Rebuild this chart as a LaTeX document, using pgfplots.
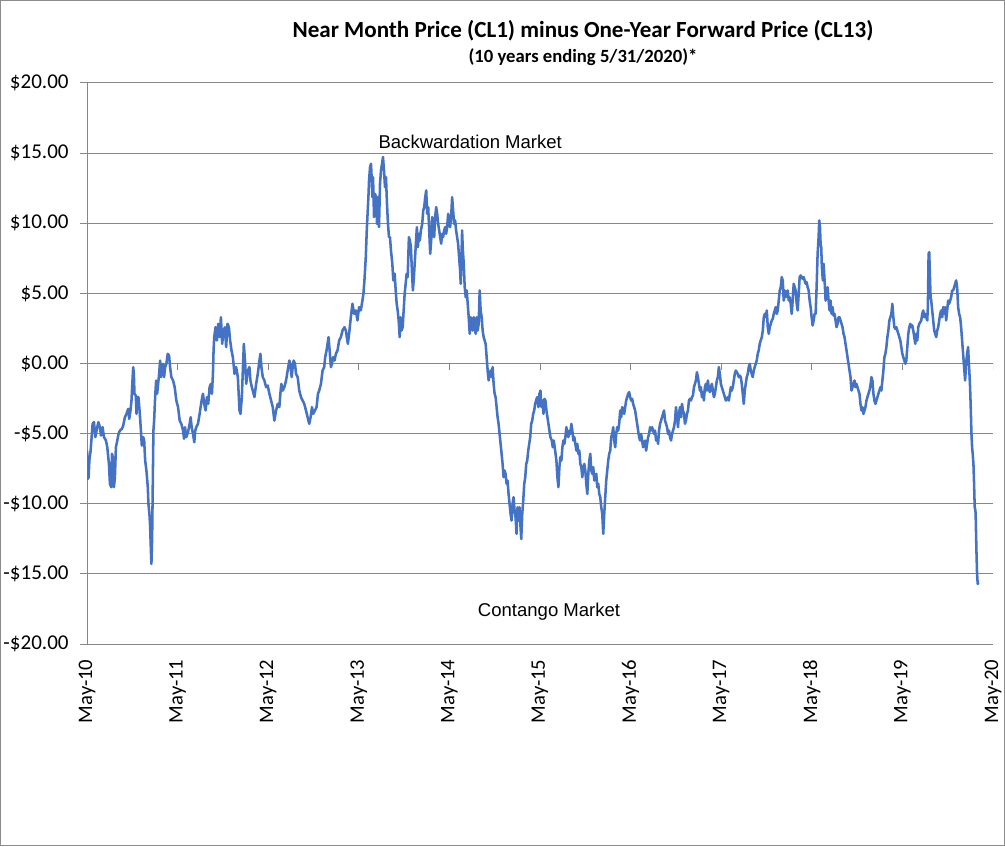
\documentclass[border=0pt]{standalone}
\usepackage{fontspec}
\setmainfont{Carlito}
\newfontfamily\arialfont{Liberation Sans}
\usepackage{pgfplots}
\usepackage{pgfplotstable}
\pgfplotsset{compat=1.18}
\definecolor{lineblue}{HTML}{4472C4}
\definecolor{axgray}{HTML}{878787}
\definecolor{framegray}{HTML}{8C8C8C}

\pgfplotstableread{
t v
0.000 -6.21
0.007 -8.23
0.018 -8.11
0.026 -6.92
0.040 -6.21
0.062 -4.30
0.077 -4.18
0.092 -5.25
0.106 -4.78
0.125 -4.18
0.143 -4.54
0.154 -5.14
0.172 -4.54
0.187 -5.25
0.209 -5.49
0.224 -5.97
0.242 -7.16
0.253 -8.58
0.268 -8.82
0.275 -6.44
0.286 -6.68
0.297 -8.82
0.308 -8.11
0.319 -5.97
0.334 -5.49
0.348 -5.02
0.363 -4.78
0.385 -4.66
0.400 -4.42
0.418 -3.83
0.436 -3.59
0.455 -3.23
0.466 -3.95
0.480 -3.35
0.491 -2.64
0.502 -1.21
0.510 -0.26
0.517 -0.74
0.524 -2.16
0.539 -2.28
0.546 -3.59
0.557 -2.40
0.568 -2.40
0.583 -3.59
0.594 -4.66
0.605 -5.85
0.620 -5.25
0.631 -5.49
0.642 -6.92
0.656 -7.63
0.671 -8.82
0.678 -10.01
0.689 -10.72
0.697 -11.67
0.704 -13.10
0.711 -14.29
0.719 -12.39
0.726 -8.58
0.733 -4.78
0.741 -4.07
0.752 -2.40
0.763 -1.21
0.774 -2.16
0.785 -1.45
0.796 -0.74
0.807 0.21
0.818 -0.97
0.829 -0.26
0.840 -0.02
0.851 -0.97
0.862 -0.26
0.876 -0.02
0.891 0.69
0.906 0.57
0.917 -0.26
0.931 -0.97
0.950 -1.21
0.968 -1.69
0.986 -2.64
1.005 -3.11
1.023 -4.07
1.041 -4.30
1.060 -4.78
1.071 -5.37
1.082 -4.54
1.096 -5.25
1.115 -4.90
1.133 -4.30
1.144 -3.83
1.155 -4.54
1.170 -5.02
1.184 -5.61
1.195 -4.78
1.206 -4.54
1.225 -4.30
1.243 -3.59
1.254 -3.11
1.265 -2.64
1.280 -2.16
1.294 -2.88
1.309 -3.35
1.324 -2.40
1.338 -2.88
1.353 -1.69
1.368 -1.45
1.379 -2.16
1.390 -0.74
1.397 0.93
1.404 1.88
1.419 2.59
1.434 1.64
1.448 2.83
1.463 1.88
1.478 3.30
1.492 1.40
1.507 2.35
1.522 2.59
1.536 1.17
1.551 2.83
1.566 2.59
1.580 1.64
1.595 0.93
1.610 0.45
1.628 -0.74
1.646 -0.26
1.665 -0.97
1.683 -3.35
1.694 -3.59
1.709 -2.40
1.720 -0.50
1.731 1.40
1.746 -0.02
1.757 -1.45
1.775 -0.50
1.793 -0.26
1.804 -1.21
1.819 -1.69
1.830 -1.93
1.848 -2.40
1.867 -1.45
1.885 -0.74
1.903 0.21
1.914 0.69
1.925 -0.26
1.940 -0.97
1.958 -1.21
1.977 -1.69
1.995 -1.57
2.013 -2.16
2.032 -2.64
2.050 -3.11
2.068 -4.07
2.087 -3.35
2.105 -2.88
2.123 -3.11
2.134 -2.16
2.145 -1.45
2.160 -1.93
2.178 -1.69
2.197 -1.21
2.215 -0.50
2.233 0.21
2.244 -0.02
2.259 -0.97
2.270 -0.26
2.281 0.21
2.296 -0.02
2.307 -0.74
2.325 -0.97
2.343 -1.93
2.362 -2.40
2.380 -2.64
2.398 -2.88
2.417 -3.35
2.435 -3.83
2.453 -4.30
2.468 -3.83
2.483 -3.11
2.497 -3.59
2.516 -3.35
2.534 -3.11
2.549 -2.16
2.563 -1.93
2.582 -1.45
2.600 -0.50
2.618 -0.26
2.629 0.45
2.644 0.93
2.655 1.40
2.666 1.88
2.681 0.69
2.692 -0.26
2.703 -0.02
2.717 0.45
2.732 0.21
2.747 0.69
2.765 0.93
2.783 1.64
2.802 1.88
2.820 2.35
2.842 2.59
2.857 2.35
2.879 1.40
2.893 2.12
2.912 3.30
2.930 4.26
2.948 3.54
2.967 3.78
2.985 3.07
3.003 4.02
3.022 3.78
3.040 4.49
3.051 4.97
3.062 5.92
3.077 7.58
3.088 9.49
3.095 10.44
3.106 11.86
3.113 13.05
3.124 14.00
3.135 14.24
3.143 13.05
3.150 11.86
3.157 13.29
3.168 10.44
3.179 12.10
3.190 11.86
3.201 9.96
3.212 11.86
3.223 9.72
3.234 12.82
3.245 13.77
3.256 14.24
3.267 14.72
3.278 13.77
3.289 12.58
3.300 13.29
3.311 11.39
3.322 9.96
3.333 9.01
3.344 9.01
3.355 8.06
3.370 7.11
3.381 5.92
3.396 6.40
3.407 5.21
3.418 4.26
3.429 3.78
3.440 3.07
3.451 1.88
3.462 3.30
3.473 2.35
3.484 2.59
3.495 3.78
3.506 4.97
3.517 5.68
3.528 6.40
3.539 6.16
3.546 7.58
3.553 9.01
3.564 8.77
3.575 8.30
3.586 6.63
3.597 5.21
3.608 6.16
3.619 7.35
3.630 8.54
3.641 9.72
3.652 8.30
3.663 9.25
3.674 8.77
3.685 9.49
3.700 9.96
3.711 10.91
3.722 11.15
3.733 11.86
3.744 12.34
3.755 10.68
3.766 11.15
3.777 9.49
3.788 7.82
3.799 8.77
3.810 10.44
3.821 9.72
3.832 9.01
3.843 10.44
3.854 11.15
3.865 10.68
3.876 9.96
3.887 9.49
3.898 9.01
3.909 8.54
3.920 9.25
3.931 9.01
3.942 9.49
3.953 9.72
3.964 9.25
3.975 9.72
3.986 10.68
3.997 9.96
4.008 9.72
4.019 10.44
4.030 11.86
4.041 10.91
4.052 9.96
4.063 10.20
4.074 9.49
4.085 9.01
4.096 8.54
4.107 7.58
4.118 6.63
4.125 5.68
4.132 7.11
4.140 9.49
4.147 8.30
4.158 7.11
4.169 5.44
4.180 4.73
4.191 5.21
4.202 4.26
4.213 3.30
4.224 2.12
4.235 3.30
4.246 2.83
4.257 2.35
4.268 3.30
4.279 2.59
4.290 2.12
4.301 3.30
4.312 2.35
4.323 2.83
4.334 5.21
4.345 3.78
4.356 3.30
4.367 2.35
4.378 1.88
4.389 1.64
4.400 1.40
4.411 0.45
4.422 -0.50
4.433 -1.21
4.444 -0.74
4.455 -0.50
4.466 -0.97
4.477 -0.26
4.488 -1.45
4.499 -2.16
4.510 -2.40
4.521 -3.11
4.532 -3.83
4.543 -4.30
4.554 -5.02
4.565 -5.73
4.576 -6.44
4.587 -7.16
4.598 -8.11
4.609 -7.63
4.620 -7.87
4.631 -8.58
4.642 -8.35
4.653 -9.30
4.664 -10.01
4.675 -10.72
4.686 -11.20
4.697 -10.01
4.708 -9.53
4.719 -10.48
4.730 -10.96
4.741 -12.15
4.752 -10.25
4.763 -11.20
4.774 -10.25
4.785 -11.67
4.793 -12.51
4.804 -10.72
4.815 -9.77
4.826 -8.58
4.837 -8.11
4.848 -7.16
4.859 -6.92
4.870 -6.21
4.881 -5.73
4.892 -5.25
4.903 -4.30
4.914 -4.07
4.925 -3.59
4.936 -3.35
4.946 -2.88
4.957 -2.64
4.968 -2.40
4.983 -3.11
4.994 -2.16
5.005 -1.93
5.016 -3.11
5.027 -2.64
5.038 -3.59
5.049 -2.52
5.060 -2.64
5.071 -3.35
5.082 -3.83
5.093 -4.30
5.104 -4.78
5.115 -5.25
5.130 -5.49
5.141 -5.97
5.152 -5.49
5.167 -6.21
5.181 -6.92
5.192 -8.11
5.203 -8.82
5.214 -7.39
5.225 -6.68
5.236 -6.92
5.247 -5.97
5.258 -5.49
5.269 -5.73
5.280 -5.25
5.291 -4.54
5.302 -5.02
5.313 -5.25
5.324 -4.78
5.335 -5.02
5.346 -4.30
5.357 -4.78
5.368 -5.49
5.379 -5.25
5.390 -5.73
5.401 -6.21
5.412 -5.73
5.423 -6.44
5.434 -6.21
5.445 -7.16
5.456 -7.39
5.467 -8.11
5.478 -7.39
5.489 -7.16
5.500 -7.63
5.511 -8.58
5.522 -9.30
5.533 -7.87
5.544 -6.92
5.555 -6.44
5.566 -7.63
5.577 -7.87
5.588 -7.39
5.599 -8.35
5.610 -8.11
5.621 -7.87
5.632 -8.82
5.643 -8.58
5.654 -9.30
5.665 -9.53
5.676 -10.25
5.687 -10.72
5.698 -12.15
5.709 -10.72
5.720 -9.53
5.731 -8.35
5.742 -7.63
5.753 -6.92
5.764 -6.44
5.775 -6.21
5.786 -5.25
5.797 -5.02
5.808 -4.54
5.819 -5.49
5.830 -5.97
5.841 -5.02
5.852 -4.54
5.863 -4.78
5.874 -4.30
5.885 -3.35
5.896 -3.83
5.907 -3.11
5.918 -3.35
5.929 -3.59
5.940 -3.11
5.951 -2.64
5.962 -2.40
5.973 -2.16
5.984 -2.04
5.995 -2.40
6.006 -2.64
6.017 -2.52
6.028 -2.88
6.039 -3.11
6.050 -3.35
6.061 -3.83
6.072 -4.30
6.083 -4.78
6.094 -5.25
6.105 -5.49
6.116 -5.02
6.127 -5.49
6.138 -5.97
6.149 -5.73
6.160 -5.49
6.171 -6.21
6.182 -5.73
6.193 -5.25
6.204 -5.02
6.215 -4.54
6.226 -4.78
6.237 -4.54
6.248 -4.78
6.259 -5.02
6.270 -4.78
6.281 -5.49
6.292 -5.25
6.303 -5.73
6.314 -4.78
6.325 -4.30
6.336 -4.07
6.347 -3.83
6.358 -3.59
6.369 -3.35
6.380 -4.07
6.391 -4.30
6.402 -4.54
6.413 -5.02
6.424 -4.78
6.435 -5.25
6.446 -5.49
6.457 -5.02
6.468 -4.78
6.479 -4.54
6.490 -4.07
6.501 -3.11
6.512 -3.83
6.523 -4.54
6.534 -3.59
6.545 -3.11
6.556 -3.83
6.567 -2.88
6.578 -3.35
6.589 -3.59
6.600 -4.30
6.611 -4.07
6.622 -3.59
6.633 -3.35
6.644 -2.64
6.655 -2.52
6.666 -2.64
6.677 -2.40
6.688 -2.28
6.699 -1.69
6.710 -1.45
6.721 -1.21
6.732 -0.62
6.743 -0.97
6.754 -1.45
6.765 -1.93
6.776 -1.69
6.787 -2.40
6.798 -2.04
6.809 -2.64
6.820 -1.69
6.831 -1.45
6.842 -1.93
6.853 -1.21
6.864 -1.81
6.875 -2.04
6.886 -1.69
6.897 -1.45
6.908 -1.93
6.919 -2.40
6.930 -2.16
6.941 -1.69
6.952 -1.21
6.963 -0.97
6.974 -0.26
6.985 -0.74
6.996 -1.45
7.007 -1.69
7.018 -1.93
7.029 -2.16
7.040 -2.40
7.051 -2.64
7.062 -2.52
7.073 -2.40
7.084 -2.64
7.095 -2.16
7.106 -1.69
7.117 -1.93
7.128 -1.69
7.139 -1.21
7.150 -0.74
7.161 -0.50
7.172 -0.62
7.183 -0.74
7.194 -0.97
7.205 -0.86
7.216 -0.97
7.227 -1.45
7.238 -2.16
7.249 -2.88
7.260 -1.93
7.271 -1.45
7.282 -0.97
7.293 -0.74
7.304 -0.26
7.315 -0.02
7.326 -0.50
7.337 -0.74
7.348 -0.97
7.359 -0.50
7.370 -0.26
7.381 -0.02
7.392 0.21
7.403 0.69
7.414 0.93
7.425 1.40
7.436 1.64
7.448 1.88
7.459 2.35
7.470 3.30
7.481 3.54
7.492 3.30
7.503 3.78
7.514 2.59
7.525 2.12
7.536 2.59
7.547 2.83
7.558 3.07
7.569 3.19
7.580 3.54
7.591 3.78
7.602 4.02
7.613 3.54
7.624 3.78
7.635 4.49
7.646 5.21
7.657 5.44
7.668 6.16
7.679 5.92
7.690 4.49
7.701 5.21
7.712 4.73
7.723 4.97
7.734 5.21
7.745 4.49
7.756 4.73
7.767 4.26
7.778 3.54
7.789 4.49
7.800 5.68
7.811 5.44
7.822 5.21
7.833 4.26
7.844 3.78
7.855 4.97
7.866 6.16
7.877 6.28
7.888 6.16
7.899 6.04
7.910 6.16
7.921 5.92
7.932 5.68
7.943 5.80
7.954 5.44
7.965 5.21
7.976 4.49
7.987 4.02
7.998 3.30
8.009 2.71
8.020 3.07
8.031 3.54
8.042 3.54
8.053 5.44
8.064 7.82
8.075 9.01
8.082 10.20
8.090 9.72
8.097 8.54
8.104 8.30
8.111 6.87
8.122 5.92
8.130 7.11
8.141 5.92
8.152 4.49
8.163 4.97
8.174 5.44
8.185 4.49
8.196 3.78
8.207 4.49
8.218 3.54
8.229 4.02
8.240 3.42
8.251 3.54
8.262 3.07
8.273 2.59
8.284 2.83
8.295 3.30
8.306 3.30
8.317 3.07
8.328 2.83
8.339 2.59
8.350 2.12
8.361 1.88
8.372 1.40
8.383 0.93
8.394 0.45
8.405 -0.02
8.416 -0.50
8.427 -0.97
8.438 -1.93
8.449 -1.69
8.460 -1.45
8.471 -1.21
8.482 -1.69
8.493 -1.45
8.504 -1.69
8.515 -1.93
8.526 -2.16
8.537 -2.88
8.548 -3.35
8.559 -3.11
8.570 -3.59
8.581 -3.35
8.592 -3.11
8.603 -2.64
8.614 -2.40
8.625 -2.16
8.636 -1.93
8.647 -1.57
8.658 -0.97
8.669 -1.21
8.680 -2.16
8.691 -2.64
8.702 -2.88
8.713 -2.64
8.724 -2.40
8.735 -2.16
8.746 -1.93
8.757 -1.69
8.768 -1.93
8.779 -1.21
8.790 -0.50
8.801 0.45
8.812 0.69
8.823 1.17
8.834 1.88
8.845 2.35
8.856 3.07
8.867 3.30
8.878 3.54
8.889 4.26
8.900 3.30
8.911 2.59
8.922 2.47
8.933 2.59
8.944 2.35
8.955 2.12
8.966 1.88
8.977 1.64
8.988 1.17
8.999 0.69
9.010 0.45
9.021 0.21
9.032 -0.02
9.043 0.21
9.054 1.17
9.065 2.12
9.076 2.59
9.087 2.83
9.098 2.59
9.109 2.71
9.120 2.35
9.131 1.88
9.142 1.40
9.153 2.12
9.164 1.64
9.175 2.59
9.186 2.83
9.197 2.95
9.208 3.07
9.219 3.54
9.230 3.78
9.241 3.30
9.252 3.54
9.263 3.30
9.274 3.07
9.281 4.02
9.289 7.82
9.296 7.94
9.303 6.40
9.311 4.73
9.318 4.49
9.329 3.78
9.340 3.07
9.351 2.35
9.362 2.12
9.373 1.88
9.384 2.35
9.395 2.59
9.406 3.07
9.417 3.54
9.428 3.78
9.439 3.30
9.450 4.02
9.461 3.54
9.472 4.02
9.483 3.07
9.494 3.78
9.505 4.49
9.516 4.26
9.527 4.49
9.538 4.73
9.549 5.21
9.560 5.21
9.571 5.44
9.582 5.68
9.593 5.92
9.604 5.44
9.615 4.02
9.626 3.54
9.637 3.30
9.648 2.59
9.659 1.64
9.670 0.69
9.681 -0.26
9.692 -1.21
9.703 -0.02
9.714 0.69
9.725 1.17
9.732 0.21
9.740 -0.74
9.747 -1.69
9.754 -3.11
9.762 -5.02
9.769 -5.97
9.776 -6.44
9.784 -7.16
9.791 -8.58
9.798 -10.25
9.806 -10.48
9.809 -10.96
9.817 -13.34
9.824 -15.00
9.831 -15.72
9.839 -15.60
}\spread

\begin{document}
\begin{tikzpicture}
\useasboundingbox (0,0) rectangle (753.75pt,634.5pt);
\draw[framegray, line width=0.75pt] (0.375pt,0.375pt) rectangle (753.375pt,634.125pt);
\begin{axis}[
  at={(65.25pt,151.5pt)}, anchor=south west,
  width=679.5pt, height=420.75pt, scale only axis,
  xmin=0, xmax=10, ymin=-20, ymax=20,
  axis x line*=bottom, axis y line*=left,
  axis line style={draw=axgray, line width=0.75pt},
  xtick={0,1,2,3,4,5,6,7,8,9,10},
  xticklabels={May-10,May-11,May-12,May-13,May-14,May-15,May-16,May-17,May-18,May-19,May-20},
  xtick style={draw=none},
  xticklabel style={rotate=90, anchor=east, inner ysep=0.5pt, xshift=-3pt, font=\fontsize{15.5}{18}\selectfont},
  ytick={-20,-15,-10,-5,0,5,10,15,20},
  yticklabels={-\$20.00,-\$15.00,-\$10.00,-\$5.00,\$0.00,\$5.00,\$10.00,\$15.00,\$20.00},
  ytick style={draw=axgray, line width=0.75pt},
  tick align=outside, major tick length=5.25pt,
  yticklabel style={xshift=-5pt, font=\fontsize{15.8}{18}\selectfont},
  ymajorgrids, grid style={axgray, line width=0.75pt},
  /pgf/number format/assume math mode=true,
]
\addplot[lineblue, line width=1.9pt, line join=round] table[x=t, y=v] {\spread};
\pgfplotsinvokeforeach{0,1,2,3,4,5,6,7,8,9,10}{
  \draw[axgray, line width=0.75pt] (axis cs:#1,0) -- ([yshift=-5.25pt]axis cs:#1,0);
}
\node[font=\arialfont\fontsize{13.9}{16}\selectfont] at (axis cs:4.23,15.83) {Backwardation Market};
\node[font=\arialfont\fontsize{13.9}{16}\selectfont] at (axis cs:5.10,-17.69) {Contango Market};
\end{axis}
\node[font=\bfseries\fontsize{17.3}{20}\selectfont] at (437.25pt,611.25pt) {Near Month Price (CL1) minus One-Year Forward Price (CL13)};
\node[font=\bfseries\fontsize{14}{16}\selectfont] at (437.25pt,591.75pt) {(10 years ending 5/31/2020)*};
\end{tikzpicture}
\end{document}
